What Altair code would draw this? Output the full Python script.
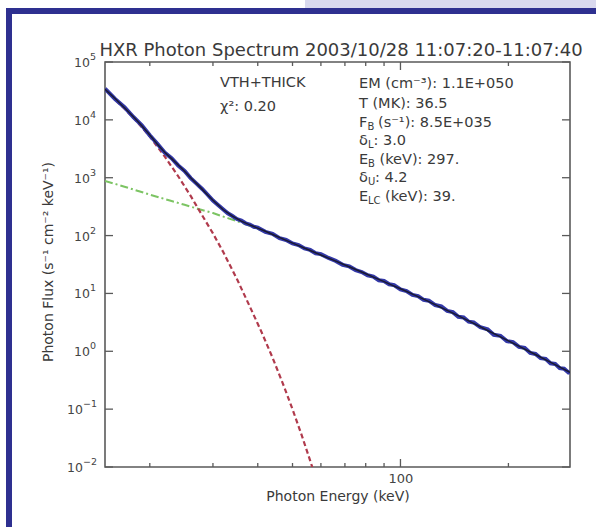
import altair as alt
import pandas as pd

FONT = "DejaVu Sans"

# ---------------- data ----------------
# observed (noisy) photon spectrum
data_energy = [15, 16, 17, 18, 19, 20, 21, 22, 23, 24, 25, 26, 27, 28, 29, 30, 31, 32, 33, 34,
               35, 36, 37, 38, 39, 40, 42, 44, 46, 48, 50, 52, 54, 56, 58, 60, 63, 66, 69, 72,
               75, 78, 81, 84, 87, 90, 93, 96, 100, 104, 108, 112, 116, 120, 125, 130, 135, 140,
               145, 150, 155, 160, 167, 175, 182, 190, 198, 206, 214, 222, 230, 238, 246, 254,
               262, 270, 278, 286, 294, 297]
data_flux = [34600, 23000, 16500, 11200, 8050, 5400, 3870, 2720, 2170, 1630, 1310, 985, 790, 640,
             508, 402, 338, 286, 243, 218, 193, 181, 163, 155, 142, 137, 116, 107, 90, 84, 73,
             68.5, 60, 56.5, 49.5, 47.8, 41, 36.5, 31.2, 29.3, 25.3, 23.4, 20.6, 19.6, 16.9, 16.4,
             14.4, 13.9, 11.7, 11.0, 9.4, 9.0, 7.75, 7.5, 6.3, 5.95, 5.0, 4.75, 3.95, 3.85, 3.25,
             3.15, 2.6, 2.4, 1.93, 1.85, 1.5, 1.44, 1.19, 1.15, 0.935, 0.9, 0.76, 0.74, 0.62,
             0.605, 0.51, 0.5, 0.43, 0.44]

# total fit (VTH + THICK)
fit_energy = [15, 16, 17, 18, 19, 20, 21, 22, 23, 24, 25, 26, 27.5, 29, 30, 32, 34, 36, 38, 40,
              42, 45, 48, 52, 56, 60, 65, 70, 75, 80, 85, 90, 95, 100, 110, 120, 130, 140, 150,
              160, 175, 190, 200, 220, 240, 260, 280, 297]
fit_flux = [33900, 23400, 16200, 11350, 7940, 5480, 3800, 2750, 2140, 1660, 1290, 1000, 708, 501,
            407, 282, 216, 178, 153, 134.6, 118.6, 98.5, 82.6, 67.1, 55.3, 46.2, 37.6, 31.0, 25.9,
            21.9, 18.6, 16.0, 13.8, 12.05, 9.27, 7.23, 5.70, 4.56, 3.70, 3.03, 2.29, 1.77, 1.51,
            1.12, 0.853, 0.661, 0.521, 0.431]

# thermal component (red dashed)
thermal_energy = [15, 18, 20, 22, 24, 26, 27, 30, 32, 35, 38, 41, 44, 47, 50, 53, 56, 58]
thermal_flux = [33800, 10900, 5150, 2330, 1060, 485, 326, 109, 52.8, 17.7, 5.96, 2.14, 0.771,
                0.277, 0.0998, 0.0359, 0.0129, 0.00653]

# non-thermal component (green dash-dot)
nonthermal_energy = [15, 17, 20, 23, 25, 27.5, 30, 33, 36, 38, 42, 48, 52, 56, 60, 70, 80, 100,
                     120, 150, 200, 250, 297]
nonthermal_flux = [880, 700, 510, 395, 340, 285, 245, 200, 168, 147, 116, 82, 66, 55, 46, 30.8,
                   21.8, 12.0, 7.2, 3.68, 1.5, 0.74, 0.43]

# axis ticks and their labels (10^exponent)
x_major_ticks = [100]
x_minor_ticks = [20, 30, 40, 50, 60, 70, 80, 90, 200]
y_ticks = [1e-2, 1e-1, 1, 10, 100, 1e3, 1e4, 1e5]
y_tick_exponents = ["\u22122", "\u22121", "0", "1", "2", "3", "4", "5"]

title_text = "HXR Photon Spectrum 2003/10/28 11:07:20-11:07:40"
x_title = "Photon Energy (keV)"
y_title = "Photon Flux (s\u207b\u00b9 cm\u207b\u00b2 keV\u207b\u00b9)"

# ---------------- chart ----------------
W, H = 465, 405
AXC = "#5a5a5a"
TXT = "#3a3a3a"
LBL = "#444444"

XS = alt.Scale(type="log", domain=[15, 297], nice=False)
YS = alt.Scale(type="log", domain=[0.01, 1e5], nice=False)

XAX = alt.Axis(values=x_major_ticks, title=None, ticks=False, domain=False, grid=False,
               labelFontSize=13, labelPadding=5, labelColor=LBL, labelFont=FONT)
YAX = alt.Axis(values=y_ticks, title=None, ticks=False, domain=False, grid=False, labels=False)


def xenc(f):
    return alt.X(f"{f}:Q", scale=XS, axis=XAX)


def yenc(f):
    return alt.Y(f"{f}:Q", scale=YS, axis=YAX)


def series(e, f):
    return pd.DataFrame({"E": e, "F": f})


one = pd.DataFrame({"a": [0]})


def txt(s, x, y, size=14.5, align="left", baseline="alphabetic", angle=0, color=TXT):
    return alt.Chart(one).mark_text(text=s, align=align, baseline=baseline, fontSize=size,
                                    font=FONT, color=color, angle=angle).encode(
        x=alt.value(x), y=alt.value(y))


def box(x1, x2, y1, y2, color):
    return alt.Chart(one).mark_rect(color=color).encode(
        x=alt.value(x1), x2=alt.value(x2), y=alt.value(y1), y2=alt.value(y2))


green = alt.Chart(series(nonthermal_energy, nonthermal_flux)).mark_line(
    color="#7cc463", strokeWidth=2, strokeDash=[8, 3, 2, 3], clip=True).encode(
    x=xenc("E"), y=yenc("F"))
red = alt.Chart(series(thermal_energy, thermal_flux)).mark_line(
    color="#b03a4c", strokeWidth=2.2, strokeDash=[5, 3], clip=True).encode(
    x=xenc("E"), y=yenc("F"))
blue = alt.Chart(series(data_energy, data_flux)).mark_line(
    color="#3338a8", strokeWidth=4, clip=True).encode(
    x=xenc("E"), y=yenc("F"))
black = alt.Chart(series(fit_energy, fit_flux)).mark_line(
    color="#1a1a30", strokeWidth=1.5, clip=True).encode(
    x=xenc("E"), y=yenc("F"))

yt = pd.DataFrame({"v": y_ticks, "exp": y_tick_exponents})
xmaj = pd.DataFrame({"v": x_major_ticks})
xmin = pd.DataFrame({"v": x_minor_ticks})

tick_style = dict(color=AXC, strokeWidth=1.3)
ticks = [
    alt.Chart(yt).mark_rule(**tick_style).encode(y=yenc("v"), x=alt.value(0), x2=alt.value(8)),
    alt.Chart(yt).mark_rule(**tick_style).encode(y=yenc("v"), x=alt.value(W - 8), x2=alt.value(W)),
    alt.Chart(xmaj).mark_rule(**tick_style).encode(x=xenc("v"), y=alt.value(H), y2=alt.value(H - 8)),
    alt.Chart(xmin).mark_rule(**tick_style).encode(x=xenc("v"), y=alt.value(H), y2=alt.value(H - 4)),
    alt.Chart(xmaj).mark_rule(**tick_style).encode(x=xenc("v"), y=alt.value(0), y2=alt.value(8)),
    alt.Chart(xmin).mark_rule(**tick_style).encode(x=xenc("v"), y=alt.value(0), y2=alt.value(4)),
]


# y tick labels: "10" with a raised exponent
def ylabel_layers(filt, xpos):
    base = alt.Chart(yt).transform_filter(filt)
    return [
        base.mark_text(text="10", align="right", baseline="middle", fontSize=12.5,
                       font=FONT, color=LBL, dy=1).encode(y=yenc("v"), x=alt.value(xpos)),
        base.mark_text(align="left", baseline="middle", fontSize=9.5,
                       font=FONT, color=LBL, dy=-5).encode(
            y=yenc("v"), x=alt.value(xpos), text="exp:N"),
    ]


ylabels = ylabel_layers("datum.v < 0.5", -22) + ylabel_layers("datum.v >= 0.5", -15)

# page decoration: blue frame and lavender strip
deco = [
    box(200, 491, -62, -54, "#d9d9ee"),
    box(-99, 491, -54, -48, "#2e3090"),
    box(-99, -93, -54, 465, "#2e3090"),
]

x0 = 254
texts = [
    txt(title_text, 236, -6, size=18, align="center"),
    txt(x_title, 233, 439, size=14, align="center"),
    txt(y_title, -56, 200, size=14, align="center", baseline="middle", angle=270),
    txt("VTH+THICK", 115, 25),
    txt("\u03c7\u00b2: 0.20", 115, 49),
    txt("EM (cm\u207b\u00b3): 1.1E+050", x0, 26),
    txt("T (MK): 36.5", x0, 45.5),
    txt("F", x0, 64.5), txt("B", x0 + 8.5, 67.5, size=10), txt("(s\u207b\u00b9): 8.5E+035", x0 + 19, 64.5),
    txt("\u03b4", x0, 83), txt("L", x0 + 9, 86, size=10), txt(": 3.0", x0 + 14.5, 83),
    txt("E", x0, 101.5), txt("B", x0 + 9, 104.5, size=10), txt("(keV): 297.", x0 + 20.5, 101.5),
    txt("\u03b4", x0, 120), txt("U", x0 + 9, 123, size=10), txt(": 4.2", x0 + 16, 120),
    txt("E", x0, 139), txt("LC", x0 + 9, 142, size=10), txt("(keV): 39.", x0 + 26, 139),
]

chart = alt.layer(*deco, green, red, blue, black, *ticks, *ylabels, *texts).properties(
    width=W, height=H,
    autosize=alt.AutoSizeParams(type="none"),
    padding={"left": 105, "top": 62, "right": 26, "bottom": 60},
    background="white",
).configure_view(stroke=AXC, strokeWidth=1.6)

chart.save("out.html", embed_options={"renderer": "svg", "actions": False})
